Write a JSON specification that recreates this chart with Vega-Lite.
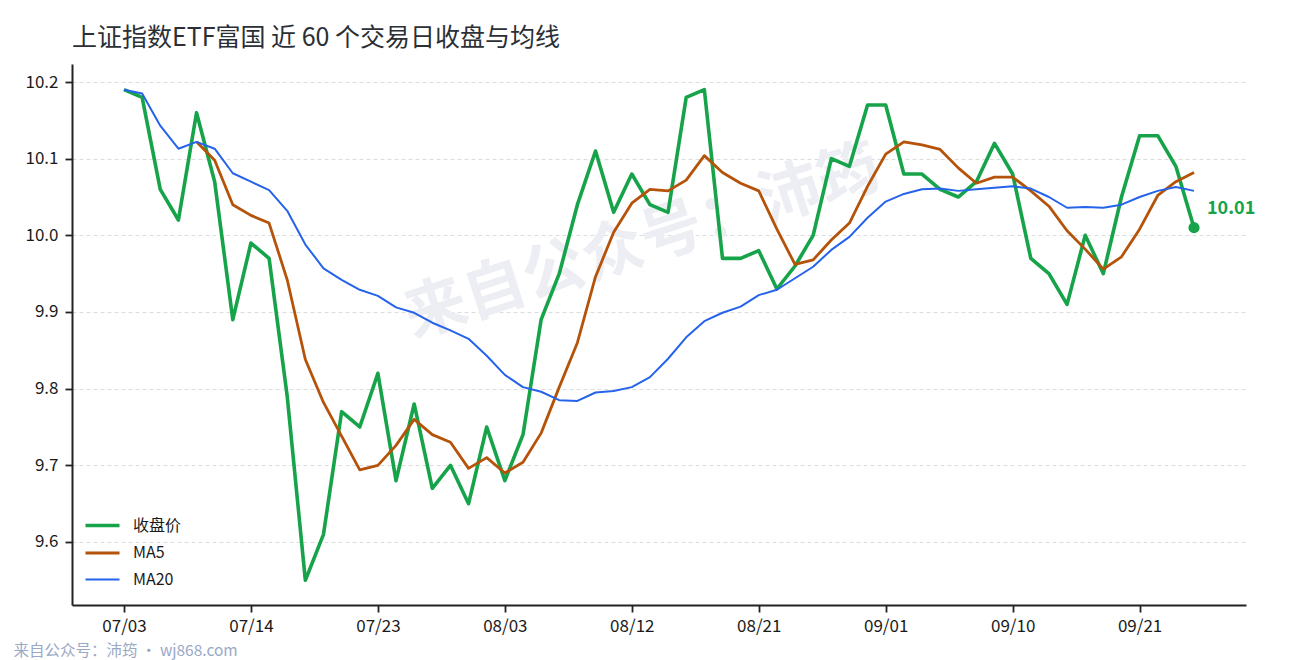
{
  "$schema": "https://vega.github.io/schema/vega-lite/v6.json",
  "width": 1174,
  "height": 541,
  "autosize": {"type": "none"},
  "padding": {"left": 72, "top": 64, "right": 44, "bottom": 55},
  "background": "white",
  "title": {
    "text": "上证指数ETF富国 近 60 个交易日收盘与均线",
    "anchor": "start",
    "frame": "group",
    "fontSize": 25,
    "fontWeight": "normal",
    "color": "#2b2f36",
    "offset": 13
  },
  "config": {
    "font": "Noto Sans CJK SC",
    "view": {"stroke": null},
    "axis": {
      "domainColor": "#222222",
      "domainWidth": 2,
      "tickColor": "#222222",
      "tickWidth": 1.8,
      "tickSize": 7,
      "labelColor": "#1a1a1a",
      "labelFontSize": 17,
      "labelPadding": 6
    },
    "legend": {
      "orient": "none",
      "legendX": 20,
      "legendY": 451,
      "symbolType": "M-2,0H2",
      "symbolSize": 289,
      "labelFontSize": 16,
      "labelColor": "#1a1a1a",
      "labelOffset": 20,
      "rowPadding": 9,
      "title": null
    }
  },
  "data": {
    "values": [
      {"i": 0, "d": "07/03", "收盘价": 10.19, "MA5": null, "MA20": 10.19},
      {"i": 1, "d": "07/04", "收盘价": 10.18, "MA5": null, "MA20": 10.185},
      {"i": 2, "d": "07/07", "收盘价": 10.06, "MA5": null, "MA20": 10.143},
      {"i": 3, "d": "07/08", "收盘价": 10.02, "MA5": null, "MA20": 10.113},
      {"i": 4, "d": "07/09", "收盘价": 10.16, "MA5": 10.122, "MA20": 10.122},
      {"i": 5, "d": "07/10", "收盘价": 10.07, "MA5": 10.098, "MA20": 10.113},
      {"i": 6, "d": "07/11", "收盘价": 9.89, "MA5": 10.04, "MA20": 10.081},
      {"i": 7, "d": "07/14", "收盘价": 9.99, "MA5": 10.026, "MA20": 10.07},
      {"i": 8, "d": "07/15", "收盘价": 9.97, "MA5": 10.016, "MA20": 10.059},
      {"i": 9, "d": "07/16", "收盘价": 9.79, "MA5": 9.942, "MA20": 10.032},
      {"i": 10, "d": "07/17", "收盘价": 9.55, "MA5": 9.838, "MA20": 9.988},
      {"i": 11, "d": "07/18", "收盘价": 9.61, "MA5": 9.782, "MA20": 9.957},
      {"i": 12, "d": "07/21", "收盘价": 9.77, "MA5": 9.738, "MA20": 9.942},
      {"i": 13, "d": "07/22", "收盘价": 9.75, "MA5": 9.694, "MA20": 9.929},
      {"i": 14, "d": "07/23", "收盘价": 9.82, "MA5": 9.70, "MA20": 9.921},
      {"i": 15, "d": "07/24", "收盘价": 9.68, "MA5": 9.726, "MA20": 9.906},
      {"i": 16, "d": "07/25", "收盘价": 9.78, "MA5": 9.76, "MA20": 9.899},
      {"i": 17, "d": "07/28", "收盘价": 9.67, "MA5": 9.74, "MA20": 9.886},
      {"i": 18, "d": "07/29", "收盘价": 9.70, "MA5": 9.73, "MA20": 9.876},
      {"i": 19, "d": "07/30", "收盘价": 9.65, "MA5": 9.696, "MA20": 9.865},
      {"i": 20, "d": "07/31", "收盘价": 9.75, "MA5": 9.71, "MA20": 9.843},
      {"i": 21, "d": "08/03", "收盘价": 9.68, "MA5": 9.69, "MA20": 9.818},
      {"i": 22, "d": "08/04", "收盘价": 9.74, "MA5": 9.704, "MA20": 9.802},
      {"i": 23, "d": "08/05", "收盘价": 9.89, "MA5": 9.742, "MA20": 9.796},
      {"i": 24, "d": "08/06", "收盘价": 9.95, "MA5": 9.802, "MA20": 9.785},
      {"i": 25, "d": "08/07", "收盘价": 10.04, "MA5": 9.86, "MA20": 9.784},
      {"i": 26, "d": "08/08", "收盘价": 10.11, "MA5": 9.946, "MA20": 9.795},
      {"i": 27, "d": "08/11", "收盘价": 10.03, "MA5": 10.004, "MA20": 9.797},
      {"i": 28, "d": "08/12", "收盘价": 10.08, "MA5": 10.042, "MA20": 9.802},
      {"i": 29, "d": "08/13", "收盘价": 10.04, "MA5": 10.06, "MA20": 9.815},
      {"i": 30, "d": "08/14", "收盘价": 10.03, "MA5": 10.058, "MA20": 9.839},
      {"i": 31, "d": "08/15", "收盘价": 10.18, "MA5": 10.072, "MA20": 9.867},
      {"i": 32, "d": "08/18", "收盘价": 10.19, "MA5": 10.104, "MA20": 9.888},
      {"i": 33, "d": "08/19", "收盘价": 9.97, "MA5": 10.082, "MA20": 9.899},
      {"i": 34, "d": "08/20", "收盘价": 9.97, "MA5": 10.068, "MA20": 9.907},
      {"i": 35, "d": "08/21", "收盘价": 9.98, "MA5": 10.058, "MA20": 9.922},
      {"i": 36, "d": "08/22", "收盘价": 9.93, "MA5": 10.008, "MA20": 9.929},
      {"i": 37, "d": "08/25", "收盘价": 9.96, "MA5": 9.962, "MA20": 9.944},
      {"i": 38, "d": "08/26", "收盘价": 10.00, "MA5": 9.968, "MA20": 9.959},
      {"i": 39, "d": "08/27", "收盘价": 10.10, "MA5": 9.994, "MA20": 9.981},
      {"i": 40, "d": "08/28", "收盘价": 10.09, "MA5": 10.016, "MA20": 9.998},
      {"i": 41, "d": "08/29", "收盘价": 10.17, "MA5": 10.064, "MA20": 10.023},
      {"i": 42, "d": "09/01", "收盘价": 10.17, "MA5": 10.106, "MA20": 10.044},
      {"i": 43, "d": "09/02", "收盘价": 10.08, "MA5": 10.122, "MA20": 10.054},
      {"i": 44, "d": "09/03", "收盘价": 10.08, "MA5": 10.118, "MA20": 10.06},
      {"i": 45, "d": "09/04", "收盘价": 10.06, "MA5": 10.112, "MA20": 10.061},
      {"i": 46, "d": "09/05", "收盘价": 10.05, "MA5": 10.088, "MA20": 10.058},
      {"i": 47, "d": "09/08", "收盘价": 10.07, "MA5": 10.068, "MA20": 10.06},
      {"i": 48, "d": "09/09", "收盘价": 10.12, "MA5": 10.076, "MA20": 10.062},
      {"i": 49, "d": "09/10", "收盘价": 10.08, "MA5": 10.076, "MA20": 10.064},
      {"i": 50, "d": "09/11", "收盘价": 9.97, "MA5": 10.058, "MA20": 10.061},
      {"i": 51, "d": "09/12", "收盘价": 9.95, "MA5": 10.038, "MA20": 10.05},
      {"i": 52, "d": "09/15", "收盘价": 9.91, "MA5": 10.006, "MA20": 10.036},
      {"i": 53, "d": "09/16", "收盘价": 10.00, "MA5": 9.982, "MA20": 10.037},
      {"i": 54, "d": "09/17", "收盘价": 9.95, "MA5": 9.956, "MA20": 10.036},
      {"i": 55, "d": "09/18", "收盘价": 10.05, "MA5": 9.972, "MA20": 10.04},
      {"i": 56, "d": "09/21", "收盘价": 10.13, "MA5": 10.008, "MA20": 10.05},
      {"i": 57, "d": "09/22", "收盘价": 10.13, "MA5": 10.052, "MA20": 10.058},
      {"i": 58, "d": "09/23", "收盘价": 10.09, "MA5": 10.07, "MA20": 10.063},
      {"i": 59, "d": "09/24", "收盘价": 10.01, "MA5": 10.082, "MA20": 10.058}
    ]
  },
  "encoding": {
    "x": {
      "field": "i",
      "type": "quantitative",
      "scale": {"domain": [-2.867, 61.867], "nice": false, "zero": false},
      "axis": {
        "values": [0, 7, 14, 21, 28, 35, 42, 49, 56],
        "labelExpr": "['07/03','07/14','07/23','08/03','08/12','08/21','09/01','09/10','09/21'][round(datum.value / 7)]",
        "labelFlush": false,
        "labelOverlap": false,
        "grid": false,
        "title": "来自公众号：沛筠 · wj868.com",
        "titleAnchor": null,
        "titleX": -59,
        "titleY": 45,
        "titleAlign": "left",
        "titleBaseline": "middle",
        "titleFontSize": 15.5,
        "titleFontWeight": "normal",
        "titleColor": "#9aa8c6"
      }
    }
  },
  "layer": [
    {
      "data": {"values": [{"i": 28.6, "v": 9.99, "t": "来自公众号：沛筠"}]},
      "mark": {
        "type": "text",
        "angle": -18,
        "fontSize": 62,
        "fontWeight": "bold",
        "align": "center",
        "baseline": "middle",
        "fill": "#eceef3"
      },
      "encoding": {
        "y": {"field": "v", "type": "quantitative"},
        "text": {"field": "t"}
      }
    },
    {
      "transform": [
        {"fold": ["收盘价", "MA5", "MA20"], "as": ["series", "value"]}
      ],
      "mark": {"type": "line", "strokeJoin": "round"},
      "encoding": {
        "y": {
          "field": "value",
          "type": "quantitative",
          "scale": {"domain": [9.5178, 10.2235], "nice": false, "zero": false},
          "axis": {
            "values": [9.6, 9.7, 9.8, 9.9, 10.0, 10.1, 10.2],
            "format": ".1f",
            "title": null,
            "labelPadding": 7,
            "grid": true,
            "gridColor": "#dcdcdc",
            "gridDash": [4, 3],
            "gridWidth": 1
          }
        },
        "color": {
          "field": "series",
          "type": "nominal",
          "scale": {"domain": ["收盘价", "MA5", "MA20"], "range": ["#16a34a", "#b45309", "#2563eb"]}
        },
        "strokeWidth": {
          "field": "series",
          "type": "nominal",
          "scale": {"domain": ["收盘价", "MA5", "MA20"], "range": [3.6, 2, 2]}
        }
      }
    },
    {
      "transform": [{"filter": "datum.i == 59"}],
      "mark": {"type": "circle", "size": 125, "opacity": 1, "color": "#16a34a"},
      "encoding": {
        "y": {"field": "收盘价", "type": "quantitative"}
      }
    },
    {
      "transform": [{"filter": "datum.i == 59"}],
      "mark": {
        "type": "text",
        "align": "left",
        "baseline": "middle",
        "dx": 13,
        "dy": -19,
        "fontSize": 18,
        "fontWeight": "bold",
        "color": "#16a34a"
      },
      "encoding": {
        "y": {"field": "收盘价", "type": "quantitative"},
        "text": {"field": "收盘价", "type": "quantitative", "format": ".2f"}
      }
    }
  ]
}
